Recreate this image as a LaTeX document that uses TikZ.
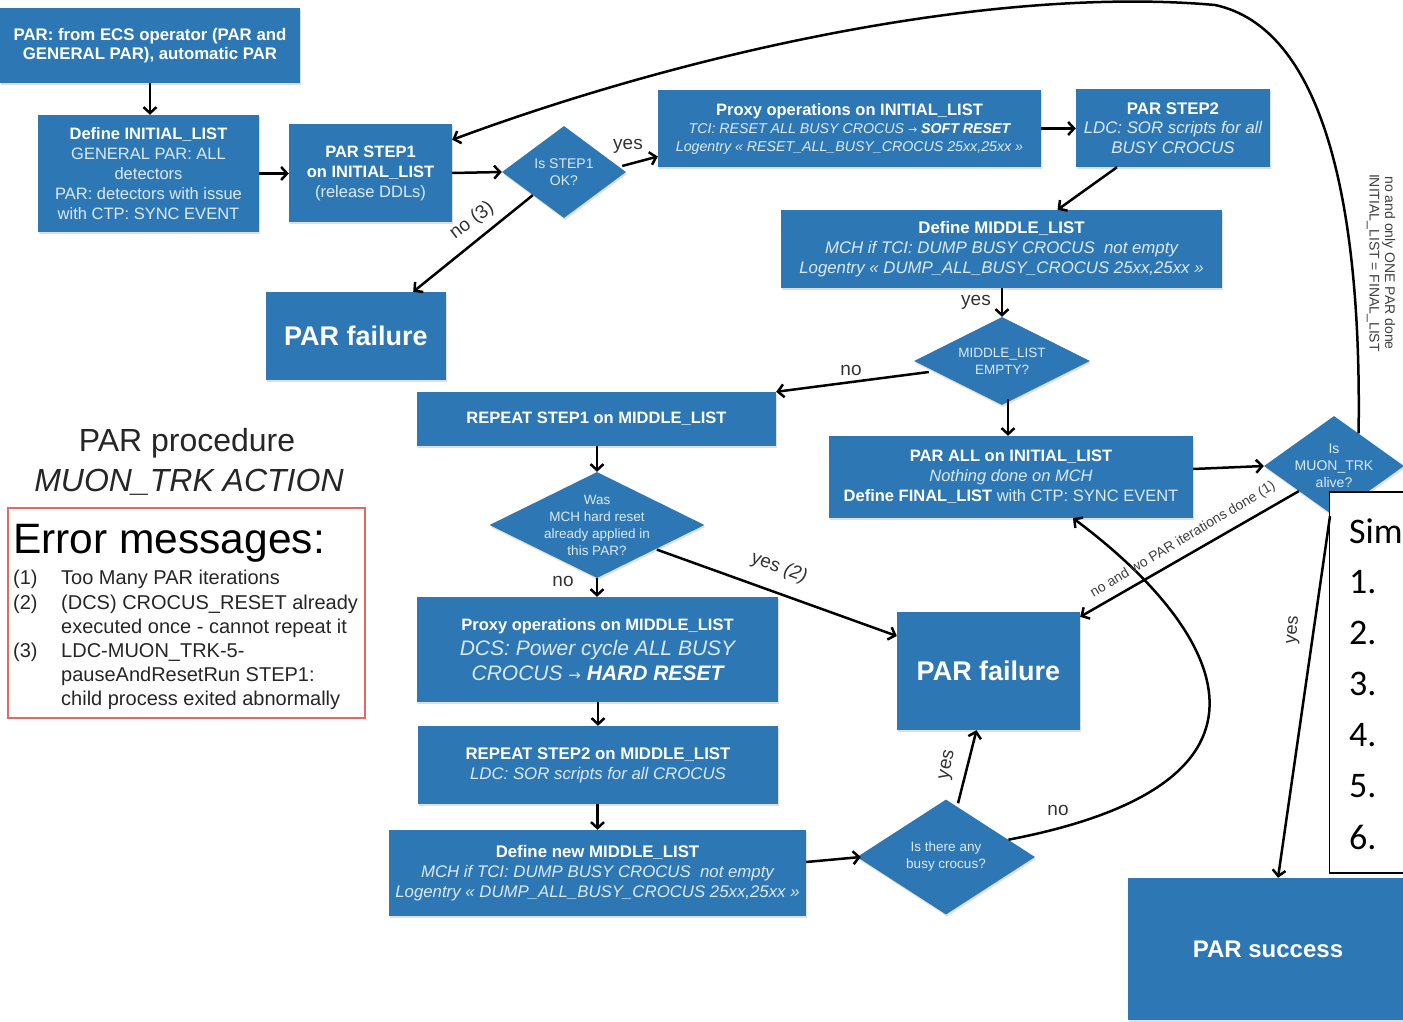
\documentclass[tikz,border=0pt]{standalone}
\usepackage{fontspec}
\setmainfont{Liberation Sans}
\newfontfamily\calib{Carlito}
\newfontfamily\dejavu{DejaVu Sans}
\usetikzlibrary{shapes.geometric,arrows.meta,calc,shadows}
\definecolor{boxblue}{RGB}{45,120,180}
\definecolor{lighttxt}{RGB}{220,233,245}
\definecolor{errred}{RGB}{226,104,100}
\tikzset{
 shad/.style={drop shadow={shadow xshift=1pt,shadow yshift=-2pt,opacity=0.25}},
 box/.style={rectangle, fill=boxblue, text=white, align=center, inner sep=0pt, shad},
 dia/.style={diamond, fill=boxblue, inner sep=0pt, shad},
 dtxt/.style={text=lighttxt, align=center, inner sep=0pt, font=\fontsize{13.5}{17}\selectfont},
 arr/.style={-{Straight Barb[length=6pt,width=13pt]}, line width=2.5pt},
 lbl/.style={font=\fontsize{19}{19}\selectfont, text=black!80, inner sep=0pt},
 smalllbl/.style={font=\fontsize{14}{15.5}\selectfont, text=black!75, inner sep=0pt},
 errtxt/.style={font=\fontsize{20}{20}\selectfont, text=black!85, anchor=west, inner sep=0pt},
 simtxt/.style={font=\calib\fontsize{36}{36}\selectfont, anchor=west, inner sep=0pt}
}
\begin{document}
\begin{tikzpicture}[x=1pt,y=-1pt]
\useasboundingbox (0,0) rectangle (1403,1022);
\fill[white] (0,0) rectangle (1403,1022);

% boxes
\node[box, minimum width=300pt, minimum height=75pt, font=\fontsize{16.8}{19.5}\selectfont\bfseries] (ecs) at (150,45.5)
 {PAR: from ECS operator (PAR and\\GENERAL PAR), automatic PAR};
\node[box, minimum width=221pt, minimum height=117pt, font=\fontsize{16.5}{20}\selectfont] (init) at (148.5,173.5)
 {{\bfseries Define INITIAL\_LIST}\\\color{lighttxt}GENERAL PAR: ALL\\\color{lighttxt}detectors\\\color{lighttxt}PAR: detectors with issue\\\color{lighttxt}with CTP: SYNC EVENT};
\node[box, minimum width=163pt, minimum height=98pt, font=\fontsize{16.5}{20}\selectfont] (step1) at (370.5,173)
 {{\bfseries PAR STEP1}\\{\bfseries on INITIAL\_LIST}\\\color{lighttxt}(release DDLs)};
\node[dia, minimum width=124pt, minimum height=92pt, label={[dtxt, font=\fontsize{14}{17}\selectfont]center:{Is STEP1\\OK?}}] (ok) at (564,172) {};
\node[box, minimum width=383pt, minimum height=77pt, font=\fontsize{14.2}{18}\selectfont] (proxy1) at (849.5,128.5)
 {{\fontsize{16.5}{18}\selectfont\bfseries Proxy operations on INITIAL\_LIST}\\
 \color{lighttxt}\itshape TCI: RESET ALL BUSY CROCUS {\dejavu\upshape\fontsize{11}{11}\selectfont →} {\color{white}\bfseries SOFT RESET}\\
 \color{lighttxt}\itshape Logentry « RESET\_ALL\_BUSY\_CROCUS 25xx,25xx »};
\node[box, minimum width=194pt, minimum height=78pt, font=\fontsize{16.8}{19.5}\selectfont] (step2) at (1173,128)
 {{\bfseries PAR STEP2}\\\color{lighttxt}\itshape LDC: SOR scripts for all\\\color{lighttxt}\itshape BUSY CROCUS};
\node[box, minimum width=441pt, minimum height=78pt, font=\fontsize{16.8}{20}\selectfont] (mid) at (1001.5,249)
 {{\bfseries Define MIDDLE\_LIST}\\\color{lighttxt}\itshape MCH if TCI: DUMP BUSY CROCUS~ not empty\\\color{lighttxt}\itshape Logentry « DUMP\_ALL\_BUSY\_CROCUS 25xx,25xx »};
\node[box, minimum width=180pt, minimum height=88pt, font=\fontsize{27}{27}\selectfont\bfseries] (fail1) at (356,336) {PAR failure};
\node[dia, minimum width=176pt, minimum height=88pt, label={[dtxt]center:{MIDDLE\_LIST\\EMPTY?}}] (empty) at (1002,361) {};
\node[box, minimum width=359pt, minimum height=54pt, font=\fontsize{16.5}{20}\selectfont\bfseries] (rep1) at (596.5,419)
 {REPEAT STEP1 on MIDDLE\_LIST};
\node[box, minimum width=364pt, minimum height=82pt, font=\fontsize{16.5}{20}\selectfont] (parall) at (1011,477)
 {{\bfseries PAR ALL on INITIAL\_LIST}\\{\color{lighttxt}\itshape Nothing done on MCH}\\{\bfseries Define FINAL\_LIST} {\color{lighttxt}with CTP: SYNC EVENT}};
\node[dia, minimum width=140pt, minimum height=100pt, label={[dtxt, font=\fontsize{14}{17}\selectfont]center:{Is\\MUON\_TRK\\alive?}}] (muon) at (1334,466) {};
\node[dia, minimum width=215pt, minimum height=106pt, label={[dtxt]center:{Was\\MCH hard reset\\already applied in\\this PAR?}}] (was) at (597,525) {};
\node[box, minimum width=361pt, minimum height=105pt, font=\fontsize{21}{25}\selectfont] (proxy2) at (597.5,649.5)
 {{\fontsize{16.5}{20}\selectfont\bfseries Proxy operations on MIDDLE\_LIST}\\
 \color{lighttxt}\itshape DCS: Power cycle ALL BUSY\\
 \color{lighttxt}\itshape CROCUS {\upshape\dejavu\fontsize{15}{15}\selectfont →} {\color{white}\bfseries HARD RESET}};
\node[box, minimum width=183pt, minimum height=118pt, font=\fontsize{27}{27}\selectfont\bfseries] (fail2) at (988.5,671) {PAR failure};
\node[box, minimum width=360pt, minimum height=78pt, font=\fontsize{16.8}{20}\selectfont] (rep2) at (598,765)
 {{\bfseries REPEAT STEP2 on MIDDLE\_LIST}\\\color{lighttxt}\itshape LDC: SOR scripts for all CROCUS};
\node[box, minimum width=417pt, minimum height=86pt, font=\fontsize{16.8}{20}\selectfont] (newmid) at (597.5,873)
 {{\bfseries Define new MIDDLE\_LIST}\\\color{lighttxt}\itshape MCH if TCI: DUMP BUSY CROCUS~ not empty\\\color{lighttxt}\itshape Logentry « DUMP\_ALL\_BUSY\_CROCUS 25xx,25xx »};
\node[dia, minimum width=178pt, minimum height=115pt, label={[dtxt]center:{Is there any\\busy crocus?}}] (busy) at (946,857) {};
\node[box, minimum width=280pt, minimum height=142pt, font=\fontsize{24}{24}\selectfont\bfseries] (success) at (1268,949) {PAR success};

% Sim box (drawn over diamond)
\node[draw=black, fill=white, line width=1.5pt, minimum width=100pt, minimum height=381pt, inner sep=0pt] (sim) at (1379.5,682.5) {};
\node[simtxt] (simt) at (1349,531) {Sim};
\node[simtxt] (s1) at (1349,582) {1.};
\node[simtxt] (s2) at (1349,633) {2.};
\node[simtxt] (s3) at (1349,684) {3.};
\node[simtxt] (s4) at (1349,735) {4.};
\node[simtxt] (s5) at (1349,786) {5.};
\node[simtxt] (s6) at (1349,837) {6.};

% Title and error messages
\node[font=\fontsize{32}{32}\selectfont, text=black!85, inner sep=0pt] (t1) at (187,443) {PAR procedure};
\node[font=\fontsize{32}{32}\selectfont\itshape, text=black!85, inner sep=0pt] (t2) at (189,482) {MUON\_TRK ACTION};
\node[draw=errred, line width=2pt, minimum width=357pt, minimum height=210pt, inner sep=0pt] (err) at (186.5,613) {};
\node[font=\fontsize{42.5}{42}\selectfont, text=black, anchor=west, inner sep=0pt] (errh) at (13,543) {Error messages:};
\node[errtxt] (e1n) at (13,579) {(1)};
\node[errtxt] (e1) at (61,579) {Too Many PAR iterations};
\node[errtxt] (e2n) at (13,604) {(2)};
\node[errtxt] (e2) at (61,604) {(DCS) CROCUS\_RESET already};
\node[errtxt] (e2b) at (61,628) {executed once - cannot repeat it};
\node[errtxt] (e3n) at (13,652) {(3)};
\node[errtxt] (e3) at (61,652) {LDC-MUON\_TRK-5-};
\node[errtxt] (e3b) at (61,676) {pauseAndResetRun STEP1:};
\node[errtxt] (e3c) at (61,700) {child process exited abnormally};

% connectors
\coordinate (eb) at ($(empty.south)+(6,-6)$);
\coordinate (wse) at ($(was.south east)+(6,-2)$);
\draw[arr] (ecs.south) -- (ecs.south |- init.north);
\draw[arr] (init.east) -- (step1.west |- init.east);
\draw[arr] (step1.east) -- (ok.west);
\draw[arr] ($(ok.east)+(-4,-6)$) -- ($(proxy1.west)+(0,28)$);
\draw[arr] (proxy1.east) -- (step2.west |- proxy1.east);
\draw[arr] ($(step2.south)+(-56,0)$) -- ($(mid.north)+(56,0)$);
\draw[arr] (mid.south -| empty.north) -- (empty.north);
\draw[arr] ($(empty.west)+(15,11)$) -- (rep1.north east);
\draw[arr] (eb) -- (eb |- parall.north);
\draw[arr] (ok.south west) -- ($(fail1.north east)+(-33,0)$);
\draw[arr] (rep1.south -| was.north) -- (was.north);
\draw[arr] (was.south) -- (was.south |- proxy2.north);
\draw[arr] (wse) -- ($(fail2.west)+(0,-35)$);
\draw[arr] (proxy2.south -| rep2.north) -- (rep2.north);
\draw[arr] (rep2.south -| newmid.north) -- (newmid.north);
\draw[arr] ($(newmid.east)+(0,-11)$) -- ($(busy.west)+(4,0)$);
\draw[arr] ($(busy.north)+(12,4)$) -- ($(fail2.south)+(-12,0)$);
\draw[arr] ($(busy.east)!0.3!(busy.north)$) .. controls (1320,780) and (1210,620) .. ($(parall.south)+(62,0)$);
\draw[arr] ($(parall.east)+(0,-8)$) -- (muon.west);
\draw[arr] (muon.south west) -- ($(fail2.north east)+(0,5)$);
\draw[arr] ($(muon.south)+(-4,0)$) -- ($(success.north)+(10,0)$);
\coordinate (ctop) at (1215,5);
\draw[arr] ($(muon.north)!0.35!(muon.east)$) .. controls (1362,200) and (1322,28) .. (ctop)
  .. controls (1000,-14) and (700,48) .. ($(step1.north east)+(0,16)$);

% labels
\node[lbl, rotate=37] (lno3) at (472,221) {no (3)};
\node[lbl] (lyes1) at (628,146) {yes};
\node[lbl] (lyes2) at (976,302) {yes};
\node[lbl] (lno1) at (851,370) {no};
\node[lbl] (lno2) at (563,581) {no};
\node[lbl, rotate=-20] (lyes3) at (779,568) {yes \itshape(2)};
\node[lbl, rotate=78] (lyes4) at (948,765) {yes};
\node[lbl] (lno4) at (1058,810) {no};
\node[smalllbl, rotate=31] (lwo) at (1183,540) {no and wo PAR iterations done (1)};
\node[smalllbl, rotate=-90, align=center] (lonly) at (1381,263) {no and only ONE PAR done\\INITIAL\_LIST = FINAL\_LIST};
\node[lbl, rotate=84, font=\fontsize{18}{18}\selectfont] (lyes5) at (1294,630) {yes};
\end{tikzpicture}
\end{document}
